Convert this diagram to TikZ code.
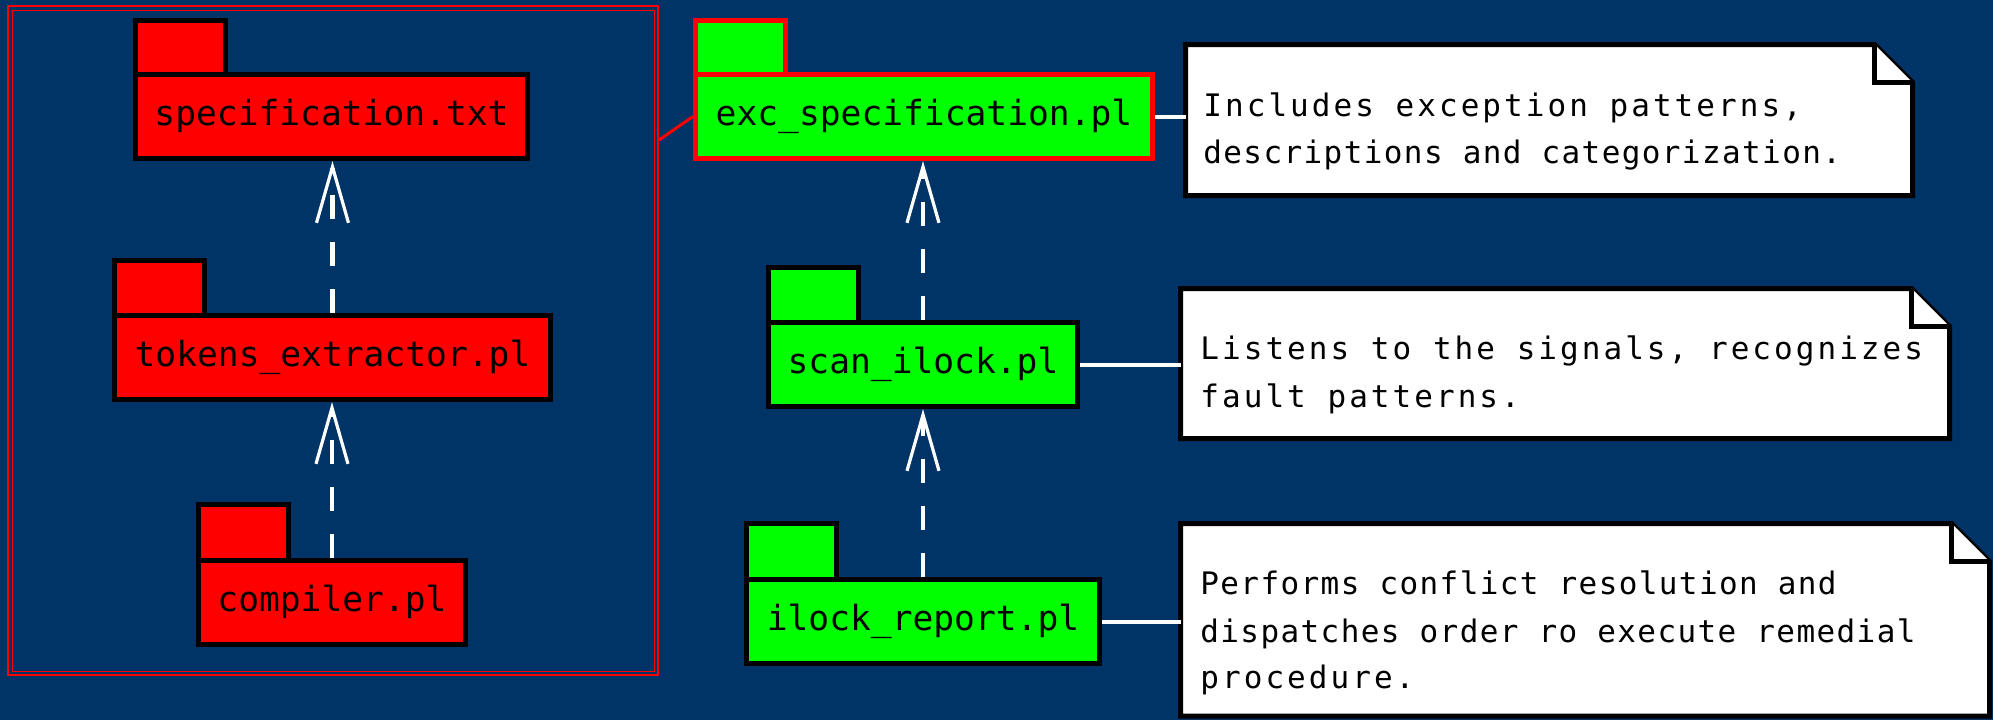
\documentclass[tikz,border=0pt]{standalone}
\usepackage{fontspec}
\newfontfamily\monofnt{DejaVu Sans Mono}
\newfontfamily\notewide[LetterSpace=9.8]{DejaVu Sans Mono}
\newfontfamily\notenarrow[LetterSpace=4.5]{DejaVu Sans Mono}
\usetikzlibrary{arrows.meta,calc}
\definecolor{bgblue}{RGB}{0,51,102}
\definecolor{pkred}{RGB}{255,0,0}
\definecolor{pkgreen}{RGB}{0,255,0}
\newcommand\drawnotebox[1]{%
  \draw[noteline] (#1.north west) -- ($(#1.north east)+(-38,0)$) -- ($(#1.north east)+(0,38)$) -- (#1.south east) -- (#1.south west) -- cycle;
  \draw[noteline] ($(#1.north east)+(-38,0)$) -- ($(#1.north east)+(-38,38)$) -- ($(#1.north east)+(0,38)$);
}
\begin{document}
\begin{tikzpicture}[x=0.5pt,y=-0.5pt,
  lbl/.style={font=\monofnt\fontsize{17.3pt}{20pt}\selectfont, text=black},
  pkgtab/.style={draw=black, line width=2.5pt, inner sep=0pt, anchor=north west, minimum width=45pt, minimum height=28pt},
  pkgbody/.style={draw=black, line width=2.5pt, inner sep=0pt, anchor=north west, minimum height=42pt, lbl, text height=0.93em, text depth=0.07em},
  redpkg/.style={fill=pkred},
  greenpkg/.style={fill=pkgreen},
  dep/.style={draw=white, line width=2.2pt, dash pattern=on 12pt off 11.5pt, -{Straight Barb[length=28pt,width=16pt,line width=1.6pt 0]}},
  notelink/.style={draw=white, line width=2pt},
  noteline/.style={draw=black, fill=white, line width=2.5pt, line join=miter},
  notetxt/.style={anchor=base west, inner sep=0pt, text=black},
  wide/.style={font=\notewide\fontsize{15.5pt}{18pt}\selectfont},
  narrow/.style={font=\notenarrow\fontsize{15.5pt}{18pt}\selectfont},
  noteanchor/.style={inner sep=0pt, outer sep=0pt, anchor=north west}
]
% background
\fill[bgblue] (0,0) rectangle (1993,720);
\useasboundingbox (0,0) rectangle (1993,720);

% frame (double red border)
\node[draw=pkred, line width=1pt, inner sep=0pt, anchor=north west, minimum width=325pt, minimum height=334.5pt] (frame) at (7,5) {};
\draw[pkred, line width=0.5pt] ($(frame.north west)+(5,5)$) rectangle ($(frame.south east)+(-5,-5)$);

% packages
\node[pkgtab, redpkg] (spectab) at (133,18) {};
\node[pkgbody, redpkg, minimum width=196pt] (spec) at (133,72) {specification.txt};

\node[pkgtab, redpkg] (toktab) at (112,258) {};
\node[pkgbody, redpkg, minimum width=218pt] (tok) at (112,313) {tokens\_extractor.pl};

\node[pkgtab, redpkg] (comptab) at (196,502) {};
\node[pkgbody, redpkg, minimum width=133.5pt] (comp) at (196,558) {compiler.pl};

\node[pkgtab, greenpkg, draw=pkred] (exctab) at (693,18) {};
\node[pkgbody, greenpkg, draw=pkred, minimum width=228.5pt] (exc) at (693,72) {exc\_specification.pl};

\node[pkgtab, greenpkg] (scantab) at (766,265) {};
\node[pkgbody, greenpkg, minimum width=154.5pt] (scan) at (766,320) {scan\_ilock.pl};

\node[pkgtab, greenpkg] (reptab) at (744,521) {};
\node[pkgbody, greenpkg, minimum width=176.5pt] (rep) at (744,577) {ilock\_report.pl};

% red link frame -> exc
\coordinate (fc) at (659,140);
\draw[pkred, line width=1.5pt] (fc) -- (exc.west);

% dependencies
\draw[dep] (tok.north) -- (tok.north |- spec.south);
\draw[dep] (comp.north) -- (comp.north |- tok.south);
\draw[dep] (scan.north) -- (scan.north |- exc.south);
\draw[dep] (rep.north) -- (rep.north |- scan.south);

% notes
\node[noteanchor, minimum width=363.5pt, minimum height=75.5pt] (n1) at (1185.5,44.5) {};
\node[noteanchor, minimum width=384.5pt, minimum height=75pt] (n2) at (1180.5,288.5) {};
\node[noteanchor, minimum width=404.5pt, minimum height=96.25pt] (n3) at (1180.5,523.5) {};
\drawnotebox{n1}
\drawnotebox{n2}
\drawnotebox{n3}

\node[notetxt, wide] (n1a) at (1203,116) {Includes exception patterns,};
\node[notetxt, narrow] (n1b) at (1203,163) {descriptions and categorization.};
\node[notetxt, wide] (n2a) at (1200,359) {Listens to the signals, recognizes};
\node[notetxt, wide] (n2b) at (1200,407) {fault patterns.};
\node[notetxt, narrow] (n3a) at (1200,594) {Performs conflict resolution and};
\node[notetxt, narrow] (n3b) at (1200,642) {dispatches order ro execute remedial};
\node[notetxt, wide] (n3c) at (1200,688) {procedure.};

% note links
\draw[notelink] (exc.east) -- (exc.east -| n1.west);
\draw[notelink] (scan.east) -- (scan.east -| n2.west);
\draw[notelink] (rep.east) -- (rep.east -| n3.west);
\end{tikzpicture}
\end{document}
